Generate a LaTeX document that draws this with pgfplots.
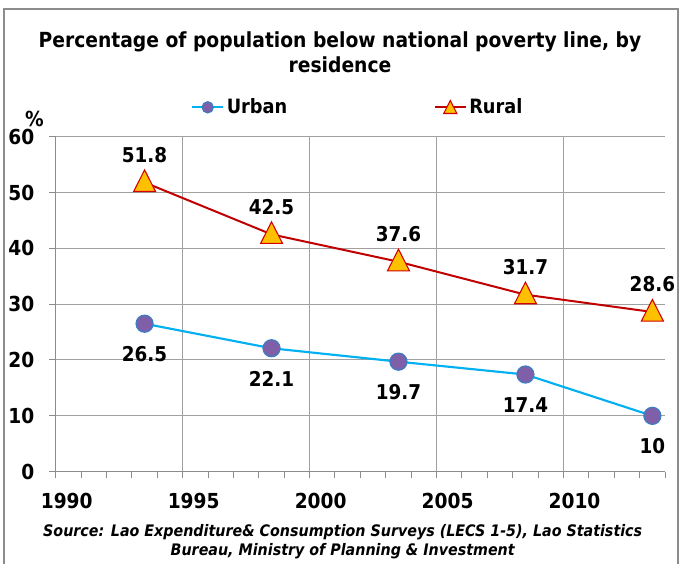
\documentclass[border=0pt]{standalone}
\usepackage{pgfplots}
\pgfplotsset{compat=1.18}
\usepackage{fontspec}
\setmainfont{DejaVu Sans Condensed}[BoldFont={DejaVu Sans Condensed Bold}, ItalicFont={DejaVu Sans Condensed Oblique}, BoldItalicFont={DejaVu Sans Condensed Bold Oblique}]
\definecolor{urbanline}{HTML}{00B0F0}
\definecolor{urbanfill}{HTML}{7F5FA8}
\definecolor{urbanedge}{HTML}{3C7DC4}
\definecolor{ruralline}{HTML}{C00000}
\definecolor{ruralfill}{HTML}{FFC000}
\definecolor{ruraledge}{HTML}{D40000}
\definecolor{gridc}{HTML}{A0A0A0}
\definecolor{framec}{HTML}{8C8C8C}
\pgfplotsset{
  urbanleg/.style={legend image code/.code={\draw[mark repeat=2, mark phase=2, ##1, mark size=4.2pt] plot coordinates {(0pt,0pt) (11.5pt,0pt) (23pt,0pt)};}},
  ruralleg/.style={legend image code/.code={\draw[mark repeat=2, mark phase=2, ##1, mark size=6.5pt] plot coordinates {(0pt,0pt) (11.5pt,0pt) (23pt,0pt)};}},
}

\begin{document}
\begin{tikzpicture}
\path[use as bounding box] (0,0) rectangle (510pt,422.25pt);
\draw[framec, line width=1.5pt] (3pt,-5pt) -- (3pt,415.5pt) -- (508.5pt,415.5pt) -- (508.5pt,-5pt);
\node[font=\bfseries\fontsize{15.6}{18.75}\selectfont, align=center] at (255pt,383pt) {Percentage of population below national poverty line, by\\residence};
\node[font=\bfseries\itshape\fontsize{11.9}{14.25}\selectfont, align=center] at (257pt,16.1pt) {Source: Lao Expenditure\& Consumption Surveys (LECS 1-5), Lao Statistics\\Bureau, Ministry of Planning \& Investment};
\begin{axis}[
  at={(41.8pt,68.5pt)}, anchor=south west,
  scale only axis, width=457pt, height=251.25pt,
  xmin=1990, xmax=2014, ymin=0, ymax=60,
  clip=false,
  axis lines=left, axis line style={-, draw=framec, line width=0.75pt},
  xtick={1990,1995,...,2010}, minor xtick={1990,...,2014},
  ytick={0,10,...,60},
  grid=major, major grid style={gridc, line width=0.75pt},
  tick align=outside, tick style={draw=framec, line width=0.75pt},
  major tick length=5pt, minor tick length=4.5pt,
  /pgf/number format/assume math mode=true,
  /pgf/number format/1000 sep={},
  ticklabel style={font=\bfseries\fontsize{15.5}{18}\selectfont},
  xticklabel style={xshift=8.25pt, yshift=-7.5pt},
  yticklabel style={xshift=-7.5pt},
  legend columns=2,
  legend cell align=left,
  legend style={at={(axis description cs:0,1)}, anchor=west, xshift=101.5pt, yshift=22pt,
    draw=none, fill=none, inner sep=0pt,
    font=\bfseries\fontsize{14.8}{17}\selectfont,
    /tikz/every even column/.append style={column sep=108pt}},
]
\addplot[color=urbanline, line width=1.6pt, mark=*, mark size=6.4pt,
  mark options={fill=urbanfill, draw=urbanedge, line width=0.9pt},
  nodes near coords,
  every node near coord/.append style={font=\bfseries\fontsize{15.3}{18}\selectfont, text=black, anchor=center, yshift=-23pt},
  urbanleg
] coordinates {(1993.5,26.5) (1998.5,22.1) (2003.5,19.7) (2008.5,17.4) (2013.5,10)};
\addlegendentry{Urban}
\addplot[color=ruralline, line width=1.5pt, mark=triangle*, mark size=10.8pt,
  mark options={fill=ruralfill, draw=ruraledge, line width=0.8pt, xscale=0.88, yshift=-1.4pt},
  nodes near coords,
  every node near coord/.append style={font=\bfseries\fontsize{15.3}{18}\selectfont, text=black, anchor=center, yshift=22pt},
  ruralleg
] coordinates {(1993.5,51.8) (1998.5,42.5) (2003.5,37.6) (2008.5,31.7) (2013.5,28.6)};
\addlegendentry{Rural}
\node[font=\bfseries\fontsize{15.5}{18}\selectfont, inner sep=0pt] at (rel axis cs:0,1) [xshift=-16pt, yshift=13.5pt] {\%};
\end{axis}
\end{tikzpicture}
\end{document}
